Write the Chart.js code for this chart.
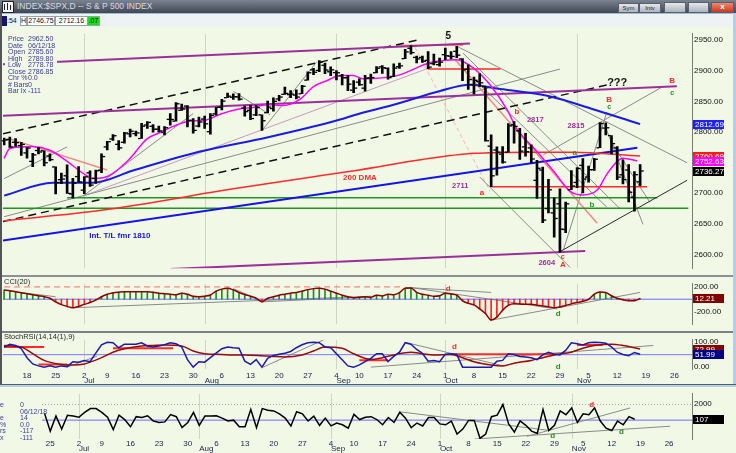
<!DOCTYPE html>
<html>
<head>
<meta charset="utf-8">
<title>INDEX:$SPX,D</title>
<script src="https://cdn.jsdelivr.net/npm/chart.js@4.4.1/dist/chart.umd.min.js"></script>
<style>
  body { margin:0; width:736px; height:453px; position:relative; overflow:hidden; background:#f2f8e6; font-family:"Liberation Sans", Arial, sans-serif; }
  .a { position:absolute; }
  canvas { position:absolute; left:0; }
  .info { position:absolute; font-size:7px; line-height:6.5px; color:#3a3a9c; white-space:pre; }
  .box { position:absolute; top:16px; height:8px; background:#fff; border:1px solid #9aa0a8; font-size:7px; line-height:8px; color:#111; text-align:center; }
  .btn { position:absolute; height:8px; background:linear-gradient(#e4e7ec,#aeb4bd); border:1px solid #59606b; font-size:6px; line-height:8px; color:#222; text-align:center; }
  .lbl { position:absolute; font-size:7.5px; color:#2a2a2a; }
</style>
</head>
<body>

<!-- window title + toolbar -->
<div class="a" style="left:0;top:0;width:736px;height:13px;background:linear-gradient(#7a8390,#3f4753);"></div>
<div class="a" style="left:2px;top:1px;width:10px;height:10px;background:#f4f4f4;border:1px solid #222;"></div>
<div class="a" style="left:4px;top:4px;width:1px;height:6px;background:#222;"></div>
<div class="a" style="left:7px;top:3px;width:1px;height:7px;background:#222;"></div>
<div class="a" style="left:10px;top:5px;width:1px;height:5px;background:#222;"></div>
<div class="a" style="left:17px;top:1px;font-size:8.5px;line-height:11px;color:#d6dae2;">INDEX:$SPX,D -- S &amp; P 500 INDEX</div>
<div class="btn" style="left:618px;top:3px;width:19px;">Sym</div>
<div class="btn" style="left:639px;top:3px;width:20px;">Intv</div>
<div class="btn" style="left:664px;top:2px;width:20px;height:9px;"></div>
<div class="btn" style="left:688px;top:2px;width:19px;height:9px;"></div>
<div class="btn" style="left:711px;top:2px;width:21px;height:9px;background:linear-gradient(#f08a6a,#c8391f);color:#fff;font-size:8px;font-weight:bold;">x</div>
<div class="a" style="left:0;top:13px;width:736px;height:14px;background:#edf2f5;border-top:1px solid #9fbcd8;box-sizing:border-box;"></div>
<div class="a" style="left:2px;top:16px;width:5px;height:10px;background:#15156a;"></div>
<div class="a" style="left:7px;top:16px;font-size:7px;line-height:10px;color:#111;">:54</div>
<div class="box" style="left:20px;width:5px;">H</div>
<div class="box" style="left:27px;width:26px;">2746.75</div>
<div class="box" style="left:55px;width:31px;">2712.16</div>
<div class="box" style="left:87px;width:11px;background:#14e014;">.07</div>

<canvas id="mainChart" width="736" height="248" style="top:27px"></canvas>
<canvas id="cciChart" width="736" height="54" style="top:277px"></canvas>
<canvas id="stochChart" width="736" height="53" style="top:333px"></canvas>
<canvas id="oscChart" width="736" height="66" style="top:387px"></canvas>

<!-- panel separators and frame -->
<div class="a" style="left:0;top:275px;width:736px;height:2px;background:#8d9096;"></div>
<div class="a" style="left:0;top:331px;width:736px;height:2px;background:#7c7f85;"></div>
<div class="a" style="left:0;top:384px;width:736px;height:1px;background:#4e5d70;"></div>
<div class="a" style="left:0;top:385px;width:736px;height:2px;background:#b9cde2;"></div>
<div class="a" style="left:0;top:13px;width:2px;height:371px;background:#545454;"></div>
<div class="a" style="left:733px;top:13px;width:3px;height:371px;background:#b9cde2;"></div>

<!-- data window texts -->
<div class="info" style="left:5px;top:34px;width:52px;height:61px;background:#f2f8e6;"></div>
<div class="info" style="left:8px;top:36px;">Price
Date
Open
High
Low
Close
Chr %
# Bars
Bar Ix</div>
<div class="info" style="left:28px;top:36px;">2962.50
06/12/18
2785.60
2789.80
2778.78
2786.85
0.0
0
-111</div>
<div class="lbl" style="left:4px;top:277px;">CCI(20)</div>
<div class="lbl" style="left:4px;top:332px;">StochRSI(14,14(1),9)</div>
<div class="info" style="left:0;top:395px;width:42px;height:58px;background:#f2f8e6;"></div>
<div class="info" style="left:0;top:402px;">e

e
%
rs
x</div>
<div class="info" style="left:20px;top:402px;">0
06/12/18
14
0.0
-117
-111</div>

<script>
// S&P 500 daily, 12 Jun 2018 .. 16 Nov 2018 (index 0 .. 111)
const opens = [
  2785.60, 2787.94, 2783.21, 2777.78, 2765.79, 2752.01, 2769.73, 2769.28, 2760.79, 2742.94,
  2722.12, 2728.45, 2698.69, 2727.13, 2704.95, 2733.27, 2724.19, 2737.68, 2775.62, 2788.56,
  2779.82, 2783.14, 2796.93, 2797.36, 2789.34, 2811.35, 2809.37, 2804.55, 2799.17, 2820.68,
  2817.73, 2835.49, 2842.35, 2819.00, 2809.73, 2821.17, 2800.48, 2829.62, 2840.29, 2855.92,
  2856.79, 2857.19, 2838.90, 2835.46, 2827.88, 2827.95, 2831.44, 2838.32, 2853.93, 2861.51,
  2860.99, 2860.29, 2862.35, 2884.69, 2901.45, 2900.62, 2908.94, 2898.37, 2896.96, 2891.59,
  2888.64, 2868.26, 2881.39, 2871.57, 2888.29, 2896.85, 2906.38, 2903.83, 2890.74, 2906.60,
  2919.73, 2936.76, 2921.83, 2921.75, 2916.98, 2911.65, 2910.03, 2926.29, 2923.80, 2931.69,
  2919.35, 2902.54, 2877.53, 2882.51, 2873.90, 2776.87, 2770.54, 2763.83, 2767.05, 2811.67,
  2802.00, 2775.66, 2773.94, 2721.03, 2737.87, 2674.88, 2667.86, 2682.65, 2640.68, 2705.60,
  2717.58, 2745.45, 2726.37, 2738.40, 2774.13, 2806.38, 2794.10, 2773.93, 2730.05, 2737.90,
  2693.52, 2718.54
];
const highs = [
  2789.80, 2791.47, 2789.06, 2782.81, 2774.99, 2765.05, 2774.86, 2769.28, 2764.17, 2742.94,
  2732.91, 2746.09, 2724.34, 2743.26, 2727.26, 2736.58, 2737.83, 2764.41, 2784.65, 2795.58,
  2785.91, 2799.22, 2804.53, 2801.19, 2814.19, 2816.76, 2812.05, 2809.70, 2808.61, 2829.99,
  2848.03, 2845.57, 2843.17, 2821.74, 2824.46, 2825.83, 2829.91, 2840.38, 2853.29, 2863.43,
  2862.44, 2862.48, 2842.20, 2843.40, 2843.11, 2827.95, 2850.49, 2855.63, 2859.76, 2873.23,
  2867.54, 2868.78, 2876.16, 2898.25, 2903.77, 2916.50, 2912.46, 2906.32, 2900.18, 2894.21,
  2892.05, 2883.81, 2886.93, 2892.52, 2894.65, 2906.76, 2908.30, 2904.65, 2911.17, 2912.36,
  2934.80, 2940.91, 2923.79, 2923.95, 2931.15, 2927.22, 2920.53, 2937.06, 2931.42, 2939.86,
  2919.78, 2909.64, 2889.45, 2894.83, 2874.02, 2795.14, 2775.77, 2775.99, 2813.46, 2816.94,
  2806.04, 2797.77, 2778.94, 2753.59, 2742.59, 2722.70, 2692.38, 2706.85, 2685.43, 2736.69,
  2741.67, 2756.55, 2744.27, 2756.82, 2815.15, 2814.75, 2794.10, 2775.99, 2754.60, 2746.80,
  2735.38, 2746.75
];
const lows = [
  2778.78, 2774.65, 2776.52, 2761.73, 2757.12, 2743.19, 2763.91, 2744.39, 2752.68, 2698.67,
  2715.60, 2699.38, 2691.99, 2718.03, 2698.95, 2711.16, 2716.02, 2733.52, 2770.73, 2786.24,
  2770.77, 2781.53, 2791.69, 2793.39, 2789.24, 2805.89, 2799.77, 2800.01, 2795.14, 2811.12,
  2817.73, 2835.26, 2808.34, 2798.11, 2808.06, 2805.85, 2796.34, 2827.37, 2835.98, 2855.92,
  2853.09, 2851.98, 2825.81, 2819.88, 2826.58, 2802.49, 2831.44, 2833.73, 2850.62, 2861.32,
  2856.05, 2854.03, 2862.35, 2884.69, 2893.50, 2898.40, 2895.22, 2891.73, 2885.13, 2876.92,
  2867.29, 2864.12, 2875.94, 2866.78, 2879.20, 2896.39, 2895.77, 2886.16, 2890.43, 2903.82,
  2919.73, 2927.11, 2912.63, 2913.70, 2903.28, 2909.27, 2907.50, 2917.91, 2919.37, 2921.36,
  2883.92, 2869.29, 2862.08, 2874.27, 2784.86, 2710.51, 2729.44, 2749.03, 2766.91, 2781.81,
  2755.18, 2760.27, 2749.22, 2691.43, 2651.89, 2667.84, 2628.16, 2603.54, 2635.34, 2705.60,
  2708.85, 2700.44, 2717.94, 2737.08, 2774.13, 2794.99, 2764.24, 2722.00, 2714.98, 2685.75,
  2670.75, 2712.16
];
const closes = [
  2786.85, 2775.63, 2782.49, 2779.66, 2773.75, 2762.59, 2767.32, 2749.76, 2754.88, 2717.07,
  2723.06, 2699.63, 2716.31, 2718.37, 2726.71, 2713.22, 2736.61, 2759.82, 2784.17, 2793.84,
  2774.02, 2798.29, 2801.31, 2798.43, 2809.55, 2815.62, 2804.49, 2801.83, 2806.98, 2820.40,
  2846.07, 2837.44, 2818.82, 2802.60, 2816.29, 2813.36, 2827.22, 2840.35, 2850.40, 2858.45,
  2857.70, 2853.58, 2833.28, 2821.93, 2839.96, 2818.37, 2840.69, 2850.13, 2857.05, 2862.96,
  2861.82, 2856.98, 2874.69, 2896.74, 2897.52, 2914.04, 2901.13, 2901.52, 2896.72, 2888.60,
  2878.05, 2871.68, 2877.13, 2887.89, 2888.92, 2904.18, 2904.98, 2888.80, 2904.31, 2907.95,
  2930.75, 2929.67, 2919.37, 2915.56, 2905.97, 2914.00, 2913.98, 2924.59, 2923.43, 2925.51,
  2901.61, 2885.57, 2884.43, 2880.34, 2785.68, 2728.37, 2767.13, 2750.79, 2809.92, 2809.21,
  2768.78, 2767.78, 2755.88, 2740.69, 2656.10, 2705.57, 2658.69, 2641.25, 2682.63, 2711.74,
  2740.37, 2723.06, 2738.31, 2755.45, 2813.89, 2806.83, 2781.01, 2726.22, 2722.18, 2701.58,
  2730.20, 2736.27
];

// moving averages: [bar index, price]
const maShort = [[0,2757],[1,2773],[5,2776],[8,2770],[11,2752],[14,2731],[15.5,2724],[17.3,2725],[21.5,2752],[25,2789],
  [27.2,2799],[29.5,2809],[32,2817],[35.4,2820],[37.7,2829],[41.2,2838],[43.4,2840],[45.9,2845],[48.7,2843],[51.6,2853],
  [54,2874],[56.4,2884],[58.6,2892],[60.9,2892],[62.6,2887],[68.6,2892],[74.3,2913],[79,2918],[81.8,2905],[84.8,2877],
  [87.8,2836],[89.5,2805],[93,2768],[95.8,2737],[98.8,2703],[101,2697],[103.5,2705],[105.2,2731],[107,2752],[108,2757],[110.5,2752.6]];
const ma50 = [[0,2696],[8.5,2717],[15.5,2717],[22.5,2737],[34.2,2768],[45.9,2791],[57.4,2817],[62.1,2830],[68.6,2846],
  [76.1,2867],[81.3,2877],[86,2871],[94.8,2859],[103.5,2835],[111,2812.7]];
const ma200 = [[0,2655],[17,2672],[40,2707],[52,2724],[62,2738],[73,2755],[82,2765],[92,2767],[99,2767],[111,2760.7]];

// drawn trendlines: [[index, price], [index, price]]
const purpleLines = [
  [[-0.2, 2910.5], [81.3, 2944.4]],
  [[-0.2, 2826.3], [117.4, 2874.6]],
  [[29, 2576], [101.4, 2605.4]]
];
const dashedLines = [
  [[-0.2, 2796.9], [72.2, 2950.2]],
  [[-0.2, 2653.7], [105.2, 2876.7]]
];
const blueTrend = [[-0.2, 2622.6], [110.5, 2774]];
const greenLevels = [
  [[11, 2692.6], [114, 2692.6]],
  [[-0.2, 2675.5], [119.4, 2675.5]]
];
const redLevels = [
  [[85, 2710.5], [112.2, 2710.5]],
  [[74, 2903], [86.6, 2903]]
];
const salmonLines = [
  [[1, 2788.6], [18, 2737.7]],
  [[78.7, 2918.3], [103.5, 2651]],
  [[68.6, 2941.6], [80.1, 2941.6]]
];
const pinkDashed = [[71.7, 2938.5], [84.8, 2703]];
const lavenderLine = [[13.8, 2695.3], [74.3, 2905]];
const blackLine = [[97, 2604.4], [119.2, 2721]];
const grayLines = [
  [[0, 2723.7], [11, 2775.6]],
  [[0, 2661.5], [97, 2902.7]],
  [[13.8, 2695.3], [33, 2830]],
  [[40, 2866.5], [46.4, 2828]],
  [[45.2, 2804.6], [54.5, 2913.5]],
  [[79, 2940], [119.2, 2749.6]],
  [[80.1, 2928.7], [107.5, 2674.4]],
  [[82.5, 2882], [105.2, 2677]],
  [[83, 2726.4], [98.8, 2578.5]],
  [[97.6, 2607], [105.2, 2832.7]],
  [[94.1, 2762.6], [115, 2874.3]],
  [[104.9, 2809], [111.5, 2649]],
  [[105.8, 2786], [112.7, 2685]]
];

// CCI(20), one value per bar
const cciValues = [
  151, 139, 122, 106, 89, 73, 56, 40, 15, -43, -89, -118, -139, -118, -84, -55, -14, 40, 81, 102,
  114, 122, 122, 122, 122, 122, 114, 98, 89, 81, 73, 98, 81, 48, 40, 48, 69, 131, 164, 180,
  151, 110, 77, 48, 15, -43, 15, 40, 65, 81, 98, 110, 131, 156, 172, 180, 164, 131, 98, 65,
  40, 23, 31, 40, 31, 65, 52, 81, 73, 106, 180, 184, 110, 81, 65, 48, 56, 98, 85, 65,
  -26, -68, -93, -159, -233, -337, -291, -180, -101, -76, -80, -84, -84, -97, -109, -122, -138, -126, -101, -76,
  -55, -35, -2, 81, 118, 110, 56, 15, -10, -26, -26, 12
];
const cciTrends = [
  [[1, 130], [9, 40]],
  [[12, -139], [64, 48]],
  [[40, 172], [45, -26]],
  [[45, -43], [64, 40]],
  [[70, 192], [85, 110]],
  [[70.8, 192], [96.4, -159]],
  [[84.8, -345], [111, 110]]
];
const cciDashLevel = [[0, 200], [69.6, 200]];

// StochRSI(14,14(1),9)
const stochK = [
  81, 92, 87, 74, 38, 13, 5, 0, 5, 0, 5, 2, 22, 20, 27, 22, 56, 90, 100, 98,
  78, 92, 92, 92, 98, 85, 81, 85, 90, 98, 94, 81, 30, 0, 22, 20, 38, 56, 74, 81,
  78, 76, 24, 11, 30, 0, 35, 47, 52, 56, 63, 78, 90, 98, 100, 98, 81, 78, 54, 30,
  5, 0, 9, 22, 35, 54, 54, 22, 43, 60, 98, 92, 71, 56, 24, 27, 22, 52, 54, 51,
  0, 0, 0, 0, 0, 0, 24, 27, 54, 51, 43, 41, 38, 30, 49, 60, 52, 49, 67, 98,
  94, 89, 98, 100, 99, 96, 81, 60, 51, 46, 59, 52
];
const stochD = [[0,87],[3,81],[5,54],[7,27],[10,11],[12,9],[14,13],[17,38],[19,60],[21,74],[24,85],[26,87],[28,89],
  [31,85],[33,65],[35,54],[38,51],[40,49],[42,49],[45,46],[47,43],[49,41],[52,49],[54,65],[56,81],[59,76],[61,54],
  [64,31],[66,38],[68,49],[71,60],[73,54],[75,49],[78,51],[80,38],[82,22],[85,9],[87,5],[89,16],[92,27],[94,38],
  [96,49],[99,60],[101,76],[103,87],[106,92],[108,87],[111,73]];
const stochRedLevels = [
  [[0, 81], [7, 81]],
  [[6, 11], [11, 11]],
  [[19, 76], [29.5, 76]],
  [[62, 28], [67, 28]],
  [[78, 52], [96.5, 52]],
  [[100, 89], [104.5, 89]]
];
const stochTrends = [
  [[11, 0], [16.2, 44]],
  [[45.2, 0], [55.7, 109]],
  [[64, 0], [113.3, 87]],
  [[70.3, 98], [87.1, 5]]
];

// lower window oscillator, bars 8 .. 111
const oscStart = 8;
const oscValues = [
  840, -1330, 490, -1085, 595, 490, 350, 945, 1400, 1400, 945, 350, -1155, 595, 70, -805, 420, 315, 525, -105,
  -280, -210, 665, 420, -910, -280, 945, -630, 490, 490, 525, 245, -105, 0, -805, -805, 1295, -910, 1400, 1190,
  1120, 770, 245, -700, 1015, 770, -105, 490, -630, 245, -700, -350, -560, -980, 700, 70, 350, 420, 70, -560,
  315, -280, 945, 245, -910, -350, -700, 315, 315, -455, -560, -105, -1680, -1085, -35, -35, -2205, -1680, 420, 595,
  1890, -455, -1435, -105, -630, -1330, -1610, 1295, -1260, -630, 1120, 665, 1470, -280, 770, 665, 1470, -105, -980, -1260,
  -105, -560, 420, 107
];
const oscTrends = [
  [[70, 1010], [96.3, -1263]],
  [[83.1, -2284], [117.2, -737]],
  [[92.2, -1968], [110.2, 1474]]
];

// time axis
const tickIdx = [4, 9, 14, 18, 23, 28, 33, 38, 43, 48, 53, 58, 62, 67, 72, 77, 82, 87, 92, 97, 102, 107, 112, 117];
const tickDay = ['18','25','2','9','16','23','30','6','13','20','27','4','10','17','24','1','8','15','22','29','5','12','19','26'];
const monthStartIdx = [14, 35, 58, 77, 100];
const monthNames = ['Jul', 'Aug', 'Sep', 'Oct', 'Nov'];

const priceTicks = [2600, 2650, 2700, 2750, 2800, 2850, 2900, 2950];

const FONT = '"Liberation Sans", Arial, sans-serif';
Chart.defaults.font.family = FONT;
Chart.defaults.font.size = 8;
Chart.defaults.animation = false;

const X_MIN = -0.19, X_MAX = 120.05;
const OSC_X_MIN = 0.23, OSC_X_MAX = 121.0;
const RED = '#ff2a2a', GREEN = '#1f961f', PURPLE = '#9b309b', GRAY = '#8a8a8a';

// ---- helpers ----
function seg(pts, color, width, dash, order) {
  return {
    type: 'line',
    data: pts.map(p => ({ x: p[0], y: p[1] })),
    borderColor: color,
    borderWidth: width,
    borderDash: dash || [],
    pointRadius: 0,
    fill: false,
    tension: 0,
    order: order || 5
  };
}
function curve(pts, color, width, order) {
  const ds = seg(pts, color, width, null, order || 3);
  ds.tension = 0.4;
  ds.cubicInterpolationMode = 'monotone';
  return ds;
}

function xAxis(min, max, axisHeight, pad) {
  return {
    type: 'linear', min: min, max: max, offset: false,
    display: axisHeight > 0,
    grid: { display: false, drawTicks: false },
    border: { display: false },
    afterBuildTicks: s => { s.ticks = tickIdx.map(v => ({ value: v })); },
    afterFit: s => { s.height = axisHeight; },
    ticks: { autoSkip: false, maxRotation: 0, minRotation: 0, padding: pad || 0, color: '#1e1e4e', font: { size: 8 },
             callback: (v, i) => tickDay[i] }
  };
}
function yAxis(min, max, tickVals, fmt) {
  return {
    type: 'linear', position: 'right', min: min, max: max,
    grid: { display: false, drawTicks: false },
    border: { display: true, color: '#7a7a7a', width: 1 },
    afterBuildTicks: s => { s.ticks = tickVals.map(v => ({ value: v })); },
    afterFit: s => { s.width = 44; },
    ticks: { padding: 2, color: '#111111', font: { size: 8 }, callback: fmt }
  };
}

// ---- plugins ----
const monthGrid = {
  id: 'monthGrid',
  beforeDatasetsDraw(chart) {
    const { ctx, chartArea: a, scales: { x } } = chart;
    ctx.save();
    ctx.strokeStyle = '#cdd5c4';
    ctx.lineWidth = 1;
    monthStartIdx.forEach(m => {
      const px = Math.round(x.getPixelForValue(m)) + 0.5;
      ctx.beginPath(); ctx.moveTo(px, a.top); ctx.lineTo(px, a.bottom); ctx.stroke();
    });
    ctx.restore();
  }
};

const monthLabels = {
  id: 'monthLabels',
  afterDraw(chart, args, opts) {
    const { ctx, scales: { x } } = chart;
    ctx.save();
    ctx.font = '8px ' + FONT;
    ctx.fillStyle = '#1e1e4e';
    ctx.textAlign = 'left';
    ctx.textBaseline = 'middle';
    monthStartIdx.forEach((m, i) => ctx.fillText(monthNames[i], x.getPixelForValue(m), opts.y));
    ctx.restore();
  }
};

const ohlcTicks = {
  id: 'ohlcTicks',
  afterDatasetsDraw(chart) {
    const { ctx, scales: { x, y } } = chart;
    ctx.save();
    ctx.fillStyle = '#000';
    closes.forEach((c, i) => {
      const px = x.getPixelForValue(i);
      ctx.fillRect(px - 3.6, y.getPixelForValue(opens[i]) - 0.6, 2.7, 1.3);
      ctx.fillRect(px + 0.9, y.getPixelForValue(c) - 0.6, 2.7, 1.3);
    });
    ctx.restore();
  }
};

const notes = {
  id: 'notes',
  afterDatasetsDraw(chart, args, opts) {
    const { ctx, scales: { x, y } } = chart;
    ctx.save();
    ctx.textAlign = 'center';
    ctx.textBaseline = 'middle';
    (opts.items || []).forEach(n => {
      ctx.font = n[4] + ' ' + FONT;
      ctx.fillStyle = n[3];
      ctx.fillText(n[0], x.getPixelForValue(n[1]), y.getPixelForValue(n[2]));
    });
    ctx.restore();
  }
};

const valueBoxes = {
  id: 'valueBoxes',
  afterDraw(chart, args, opts) {
    const { ctx, chartArea: a, scales: { y } } = chart;
    ctx.save();
    ctx.font = '8px ' + FONT;
    ctx.textBaseline = 'middle';
    (opts.items || []).forEach(b => {
      const py = Math.round(y.getPixelForValue(b[0]));
      ctx.fillStyle = b[2];
      ctx.fillRect(a.right + 1, py - 4, 31, 9);
      ctx.fillStyle = b[3] || '#fff';
      ctx.fillText(b[1], a.right + 3, py + 0.5);
    });
    ctx.restore();
  }
};

const dottedLevels = {
  id: 'dottedLevels',
  beforeDatasetsDraw(chart, args, opts) {
    const { ctx, chartArea: a, scales: { y } } = chart;
    ctx.save();
    ctx.strokeStyle = '#a9b1a0';
    ctx.setLineDash([1, 2]);
    (opts.levels || []).forEach(v => {
      const py = Math.round(y.getPixelForValue(v)) + 0.5;
      ctx.beginPath(); ctx.moveTo(a.left, py); ctx.lineTo(a.right, py); ctx.stroke();
    });
    ctx.restore();
  }
};

const baseOpts = {
  responsive: false,
  animation: false,
  events: [],
  plugins: { legend: { display: false }, tooltip: { enabled: false } }
};

// ---- main price panel ----
const priceDatasets = [
  {
    type: 'bar',
    data: closes.map((c, i) => ({ x: i, y: [lows[i], highs[i]] })),
    backgroundColor: '#000',
    barThickness: 2,
    order: 0
  },
  seg(blackLine, '#2a2a2a', 1, null, 4),
  ...grayLines.map(l => seg(l, GRAY, 1, null, 6)),
  seg(lavenderLine, '#c49ac4', 1, null, 6),
  seg(pinkDashed, '#f2b4b4', 1, [4, 3], 6),
  ...salmonLines.map(l => seg(l, '#f28a80', 1.5, null, 5)),
  ...purpleLines.map(l => seg(l, PURPLE, 2, null, 4)),
  ...dashedLines.map(l => seg(l, '#111', 1.5, [8, 5], 4)),
  seg(blueTrend, '#1414e6', 2, null, 4),
  ...greenLevels.map(l => seg(l, GREEN, 1.5, null, 4)),
  ...redLevels.map(l => seg(l, RED, 1.5, null, 4)),
  curve(ma200, RED, 1.5, 3),
  curve(ma50, '#1c1ce0', 2, 3),
  curve(maShort, '#ff00ff', 1.5, 2)
];

new Chart(document.getElementById('mainChart'), {
  type: 'bar',
  data: { datasets: priceDatasets },
  options: {
    ...baseOpts,
    layout: { padding: { left: 3, top: 1, bottom: 1, right: 0 } },
    scales: {
      x: xAxis(X_MIN, X_MAX, 0),
      y: yAxis(2577.4, 2960.3, priceTicks, v => v.toFixed(2))
    },
    plugins: {
      ...baseOpts.plugins,
      notes: { items: [
        ['5', 77.5, 2957, '#111', 'bold 10px'],
        ['???', 107, 2880, '#111', 'bold 11px'],
        ['B', 116.6, 2884, RED, 'bold 8px'],
        ['c', 116.6, 2864, GREEN, 'bold 7px'],
        ['B', 105.6, 2852, RED, 'bold 8px'],
        ['c', 105.6, 2840.5, GREEN, 'bold 7px'],
        ['b', 89.5, 2832.7, RED, 'bold 8px'],
        ['2817', 92.7, 2819.8, PURPLE, 'bold 7.5px'],
        ['2815', 99.8, 2809.3, PURPLE, 'bold 7.5px'],
        ['a', 99.6, 2765.3, GREEN, 'bold 8px'],
        ['200 DMA', 62.1, 2724.8, RED, 'bold 8px'],
        ['2711', 79.6, 2711.8, PURPLE, 'bold 7.5px'],
        ['a', 83.4, 2700.4, RED, 'bold 8px'],
        ['b', 102.6, 2680.6, GREEN, 'bold 8px'],
        ['2604', 94.7, 2586, PURPLE, 'bold 7.5px'],
        ['c', 97.5, 2595.6, RED, 'bold 7px'],
        ['A', 97.5, 2583.7, RED, 'bold 8px'],
        ['Int. T/L fmr 1810', 20.2, 2630.4, '#1414e6', 'bold 8px']
      ] },
      valueBoxes: { items: [
        [2812.69, '2812.69', '#1f1fff'],
        [2760.69, '2760.69', '#ff1a1a'],
        [2752.63, '2752.63', '#ff00ff'],
        [2736.27, '2736.27', '#000000']
      ] }
    }
  },
  plugins: [monthGrid, ohlcTicks, notes, valueBoxes]
});

// ---- CCI panel ----
new Chart(document.getElementById('cciChart'), {
  type: 'bar',
  data: { datasets: [
    {
      type: 'bar',
      data: cciValues.map((v, i) => ({ x: i, y: v })),
      backgroundColor: c => (c.raw && c.raw.y < 0) ? '#ff2020' : '#1a901a',
      barThickness: 1,
      order: 2
    },
    curve(cciValues.map((v, i) => [i, v]), '#8b0000', 1.5, 1),
    seg([[X_MIN, 0], [X_MAX, 0]], '#6b6bff', 1, null, 3),
    seg(cciDashLevel, '#ff6a6a', 1, [6, 4], 3),
    ...cciTrends.map(l => seg(l, GRAY, 1, null, 4))
  ] },
  options: {
    ...baseOpts,
    layout: { padding: { left: 3, top: 0, bottom: 1, right: 0 } },
    scales: {
      x: xAxis(X_MIN, X_MAX, 0),
      y: yAxis(-407, 250.6, [-200, 200], v => v.toFixed(2))
    },
    plugins: {
      ...baseOpts.plugins,
      notes: { items: [['d', 77.5, 172, RED, 'bold 8px'], ['d', 96.7, -242, GREEN, 'bold 8px']] },
      valueBoxes: { items: [[12.21, '12.21', '#800000']] }
    }
  },
  plugins: [monthGrid, notes, valueBoxes]
});

// ---- StochRSI panel (with date axis) ----
new Chart(document.getElementById('stochChart'), {
  type: 'line',
  data: { datasets: [
    seg([[X_MIN, 50], [X_MAX, 50]], '#7a7aff', 1, null, 6),
    ...stochRedLevels.map(l => seg(l, RED, 2, null, 5)),
    ...stochTrends.map(l => seg(l, GRAY, 1, null, 5)),
    curve(stochD, '#9a0c0c', 1.5, 2),
    seg(stochK.map((v, i) => [i, v]), '#1c1ca8', 1.5, null, 1)
  ] },
  options: {
    ...baseOpts,
    layout: { padding: { left: 3, top: 0, bottom: 0, right: 0 } },
    scales: {
      x: xAxis(X_MIN, X_MAX, 17, 2),
      y: yAxis(-7.5, 109.8, [0, 100], v => v.toFixed(2))
    },
    plugins: {
      ...baseOpts.plugins,
      notes: { items: [['d', 78.6, 81, RED, 'bold 8px'], ['d', 96.7, 2, GREEN, 'bold 8px']] },
      valueBoxes: { items: [[72.99, '72.99', '#800000'], [51.99, '51.99', '#000080']] },
      monthLabels: { y: 48 }
    }
  },
  plugins: [monthGrid, notes, valueBoxes, monthLabels]
});

// ---- lower window oscillator ----
new Chart(document.getElementById('oscChart'), {
  type: 'line',
  data: { datasets: [
    seg([[OSC_X_MIN, 0], [OSC_X_MAX, 0]], '#6b6bff', 1, null, 6),
    ...oscTrends.map(l => seg(l, GRAY, 1, null, 5)),
    seg(oscValues.map((v, i) => [i + oscStart, v]), '#000', 1.5, null, 1)
  ] },
  options: {
    ...baseOpts,
    layout: { padding: { left: 0, top: 0, bottom: 0, right: 0 } },
    scales: {
      x: xAxis(OSC_X_MIN, OSC_X_MAX, 14, 0),
      y: yAxis(-2284, 3189, [2000], v => String(v))
    },
    plugins: {
      ...baseOpts.plugins,
      notes: { items: [['d', 103.5, 1895, RED, 'bold 8px'], ['d', 96.7, -1937, GREEN, 'bold 8px'], ['d', 108.7, -1410, GREEN, 'bold 8px']] },
      valueBoxes: { items: [[107, '107', '#000000']] },
      dottedLevels: { levels: [2000] },
      monthLabels: { y: 62 }
    }
  },
  plugins: [monthGrid, dottedLevels, notes, valueBoxes, monthLabels]
});
</script>
</body>
</html>
